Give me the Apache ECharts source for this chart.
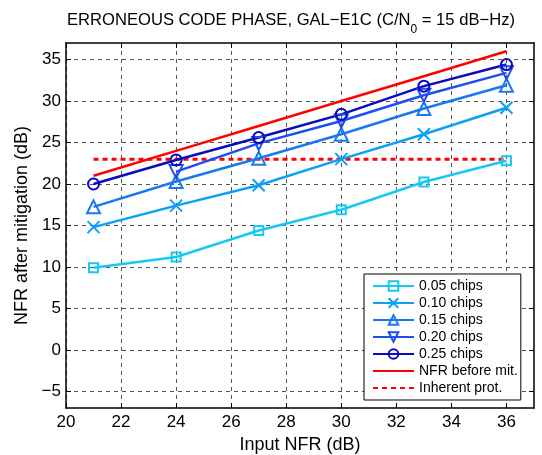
<!DOCTYPE html>
<html>
<head>
<meta charset="utf-8">
<script src="https://cdn.jsdelivr.net/npm/echarts@6/dist/echarts.min.js"></script>
<style>
  html, body { margin: 0; padding: 0; background: #fff; }
  #chart { width: 542px; height: 455px; }
</style>
</head>
<body>
<div id="chart"></div>
<script>
// values
var inputNfr = [21, 24, 27, 30, 33, 36];
var chips005 = [9.9, 11.2, 14.4, 16.9, 20.25, 22.8];
var chips010 = [14.8, 17.4, 19.85, 23.0, 26.0, 29.2];
var chips015 = [17.25, 20.3, 23.1, 26.0, 29.1, 31.9];
var chips020 = [null, 21.5, 24.9, 27.6, 30.7, 33.4];
var chips025 = [20.0, 22.9, 25.6, 28.4, 31.8, 34.4];
var nfrBefore = [21, 24, 27, 30, 33, 36];
var inherentProt = [23, 23, 23, 23, 23, 23];

var xTicks = [20, 22, 24, 26, 28, 30, 32, 34, 36];
var yTicks = [-5, 0, 5, 10, 15, 20, 25, 30, 35];

var FONT = '"Liberation Sans", Arial, Helvetica, sans-serif';

function pairs(ys) {
    return inputNfr.map(function (x, i) {
        return [x, ys[i]];
    });
}

function chipSeries(name, ys, color, symbol, size) {
    return {
        name: name,
        type: 'line',
        data: pairs(ys),
        symbol: symbol,
        symbolSize: size,
        showAllSymbol: true,
        lineStyle: { color: color, width: 2.5 },
        itemStyle: { color: 'rgba(255,255,255,0)', borderColor: color, borderWidth: 2 },
        emphasis: { disabled: true },
        z: 3
    };
}

var downTri = 'path://M0,0L10,0L5,9Z';
var cross = 'path://M0,0L10,10M10,0L0,10';
var hiddenMark = { color: 'rgba(0,0,0,0)', borderWidth: 0, opacity: 0 };

var chart = echarts.init(document.getElementById('chart'));

var option = {
    animation: false,
    backgroundColor: '#fff',
    textStyle: { fontFamily: FONT },
    title: {
        text: '{a|ERRONEOUS CODE PHASE, GAL\u2212E1C (C/N}{s|0}{a| = 15 dB\u2212Hz)}',
        left: 286,
        top: 5,
        textAlign: 'center',
        textStyle: {
            fontWeight: 'normal',
            rich: {
                a: { fontSize: 16.6, fontFamily: FONT, fontWeight: 'normal', color: '#000', height: 20, verticalAlign: 'top' },
                s: { fontSize: 12, fontFamily: FONT, fontWeight: 'normal', color: '#000', height: 20, verticalAlign: 'top', padding: [10, 0, 0, 0] }
            }
        }
    },
    grid: { left: 66, right: 8, top: 43, bottom: 47, containLabel: false, outerBoundsMode: 'none' },
    legend: {
        orient: 'vertical',
        left: 364,
        top: 274,
        itemWidth: 41,
        itemHeight: 12,
        itemGap: 3,
        padding: [5, 3, 5, 8],
        borderColor: '#000',
        borderWidth: 1,
        backgroundColor: '#fff',
        textStyle: { fontSize: 14, fontFamily: FONT, color: '#000' },
        data: [
            '0.05 chips', '0.10 chips', '0.15 chips', '0.20 chips', '0.25 chips',
            { name: 'NFR before mit.', itemStyle: hiddenMark },
            { name: 'Inherent prot.', itemStyle: hiddenMark }
        ]
    },
    xAxis: [{
        type: 'value',
        min: 20,
        max: 37,
        name: 'Input NFR (dB)',
        nameLocation: 'middle',
        nameGap: 24,
        nameTextStyle: { fontSize: 18, fontFamily: FONT, color: '#000' },
        axisLine: { show: true, onZero: false, lineStyle: { color: '#000', width: 1.5 } },
        axisTick: { show: true, inside: true, length: 5, customValues: xTicks, lineStyle: { color: '#000' } },
        axisLabel: { fontSize: 17, color: '#000', margin: 6, customValues: xTicks },
        splitLine: { show: true, lineStyle: { color: '#555', type: [4, 4], width: 1 } }
    }, {
        type: 'value',
        min: 20,
        max: 37,
        position: 'top',
        axisLine: { show: true, onZero: false, lineStyle: { color: '#000', width: 1.5 } },
        axisTick: { show: true, inside: true, length: 5, customValues: xTicks, lineStyle: { color: '#000' } },
        axisLabel: { show: false },
        splitLine: { show: false }
    }],
    yAxis: [{
        type: 'value',
        min: -7,
        max: 37,
        name: 'NFR after mitigation (dB)',
        nameLocation: 'middle',
        nameGap: 34,
        nameTextStyle: { fontSize: 18, fontFamily: FONT, color: '#000' },
        axisLine: { show: true, onZero: false, lineStyle: { color: '#000', width: 1.5 } },
        axisTick: { show: true, inside: true, length: 5, customValues: yTicks, lineStyle: { color: '#000' } },
        axisLabel: {
            fontSize: 17, color: '#000', margin: 5, customValues: yTicks,
            formatter: function (v) { return String(v).replace('-', '\u2212'); }
        },
        splitLine: { show: true, lineStyle: { color: '#555', type: [4, 4], width: 1 } }
    }, {
        type: 'value',
        min: -7,
        max: 37,
        position: 'right',
        axisLine: { show: true, onZero: false, lineStyle: { color: '#000', width: 1.5 } },
        axisTick: { show: true, inside: true, length: 5, customValues: yTicks, lineStyle: { color: '#000' } },
        axisLabel: { show: false },
        splitLine: { show: false }
    }],
    series: [
        chipSeries('0.05 chips', chips005, '#17c8f5', 'rect', 9),
        chipSeries('0.10 chips', chips010, '#0aa0f5', cross, 12),
        chipSeries('0.15 chips', chips015, '#1878f0', 'triangle', 13),
        chipSeries('0.20 chips', chips020, '#1d4ef0', downTri, 13),
        chipSeries('0.25 chips', chips025, '#0a0ac0', 'circle', 11),
        {
            name: 'NFR before mit.',
            type: 'line',
            data: pairs(nfrBefore),
            symbol: 'circle',
            showSymbol: false,
            lineStyle: { color: '#ff0000', width: 2.5 },
            itemStyle: { color: '#ff0000' },
            emphasis: { disabled: true },
            z: 2
        },
        {
            name: 'Inherent prot.',
            type: 'line',
            data: pairs(inherentProt),
            symbol: 'circle',
            showSymbol: false,
            lineStyle: { color: '#ff0000', width: 3, type: [5, 4] },
            itemStyle: { color: '#ff0000' },
            emphasis: { disabled: true },
            z: 2
        }
    ]
};

chart.setOption(option);
</script>
</body>
</html>
